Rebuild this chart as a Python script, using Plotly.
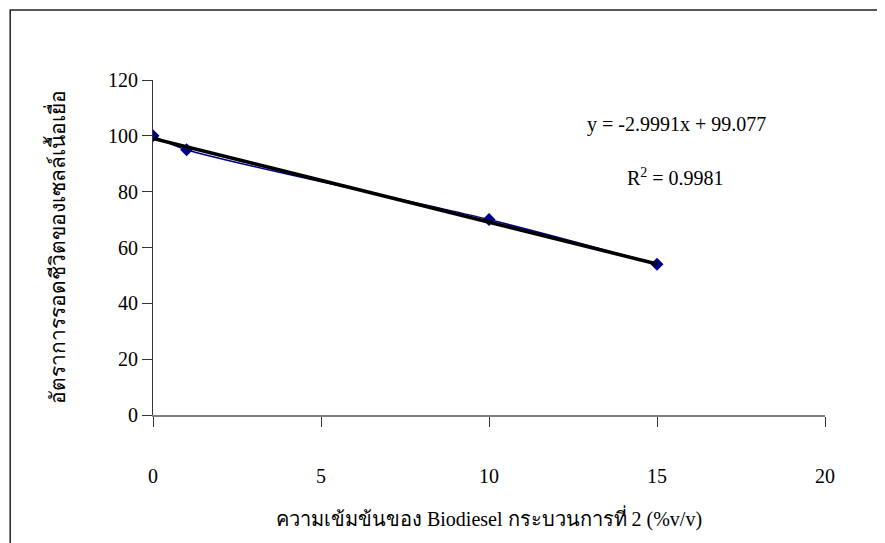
import numpy as np
import plotly.graph_objects as go

# Data
conc = [0, 1, 10, 15]
survival = [100, 95, 70, 54]
slope = -2.9991
intercept = 99.077
r2 = 0.9981
x_ticks = [0, 5, 10, 15, 20]
y_ticks = [0, 20, 40, 60, 80, 100, 120]
x_title = "ความเข้มข้นของ Biodiesel กระบวนการที่ 2 (%v/v)"
y_title = "อัตราการรอดชีวิตของเซลล์เนื้อเยื่อ"

FONT = "Liberation Serif, Times New Roman, serif"

trend_x = [min(conc), max(conc)]
trend_y = [slope * v + intercept for v in trend_x]

fig = go.Figure()
fig.add_trace(go.Scatter(
    x=conc, y=survival, mode="lines+markers",
    line=dict(color="#000080", width=1.5, shape="spline", smoothing=0.8),
    marker=dict(symbol="diamond", size=10, color="#000080"),
    showlegend=False,
))
fig.add_trace(go.Scatter(
    x=trend_x, y=trend_y, mode="lines",
    line=dict(color="black", width=3.5),
    showlegend=False,
))

fig.add_annotation(x=0.779, y=0.866, xref="paper", yref="paper",
                   xanchor="center", yanchor="middle",
                   text=f"y = {slope}x + {intercept}", showarrow=False,
                   font=dict(family=FONT, size=20, color="black"))
fig.add_annotation(x=0.777, y=0.71, xref="paper", yref="paper",
                   xanchor="center", yanchor="middle",
                   text=f"R<sup>2</sup> = {r2}", showarrow=False,
                   font=dict(family=FONT, size=20, color="black"))

fig.add_shape(type="rect", xref="paper", yref="paper",
              x0=-0.2125, x1=1.1, y0=-0.45, y1=1.209,
              line=dict(color="#222222", width=1.5), fillcolor="rgba(0,0,0,0)",
              layer="below")

fig.update_layout(
    width=885, height=543,
    margin=dict(l=145, r=68, t=72, b=136),
    paper_bgcolor="white", plot_bgcolor="white",
    font=dict(family=FONT, size=20, color="black"),
)
fig.update_xaxes(
    range=[0, 20], tickvals=x_ticks, ticks="outside", ticklen=10,
    tickcolor="#333333", showline=True, linecolor="#808080", linewidth=1.5,
    showgrid=False, zeroline=False, ticklabelstandoff=32,
    title=dict(text=x_title, font=dict(family=FONT, size=20), standoff=26),
)
fig.update_yaxes(
    range=[0, 120], tickvals=y_ticks, ticks="outside", ticklen=10,
    tickcolor="#333333", showline=True, linecolor="#333333", linewidth=1.2,
    showgrid=False, zeroline=False,
    title=dict(text=y_title, font=dict(family=FONT, size=21), standoff=36),
)

fig.write_html("out.html")
